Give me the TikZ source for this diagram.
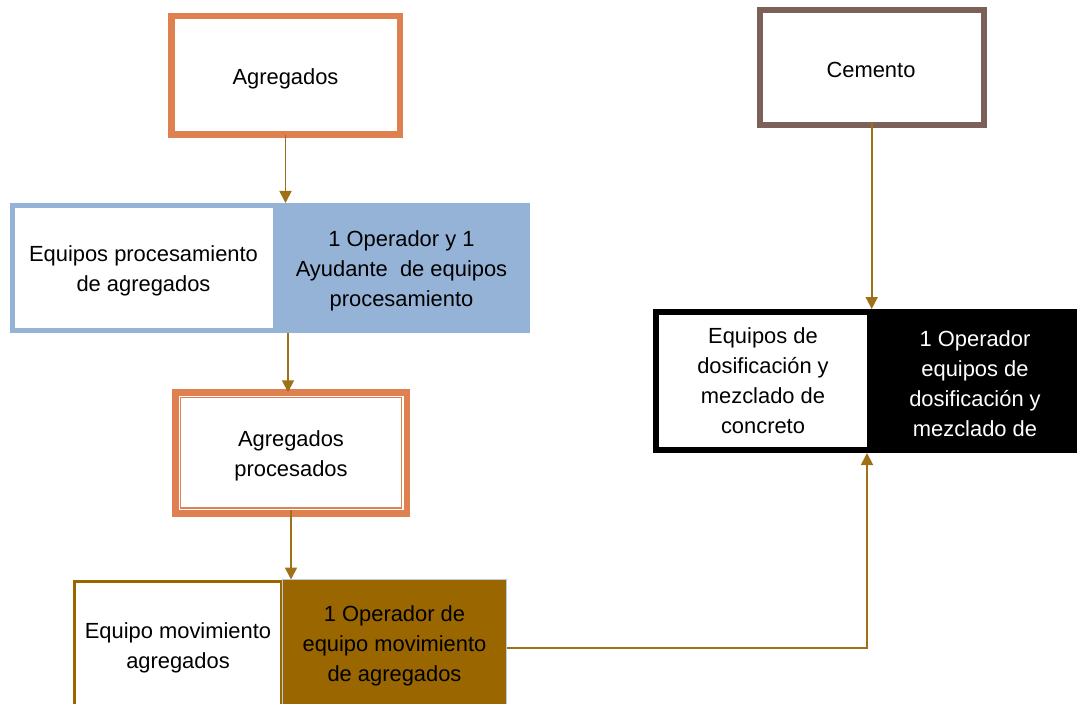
\documentclass[tikz,border=0pt]{standalone}
\usepackage{fontspec}
\setmainfont{Liberation Sans}
\usetikzlibrary{fit,arrows.meta}

\definecolor{aggorange}{RGB}{222,128,80}
\definecolor{procblue}{RGB}{149,179,215}
\definecolor{movbrown}{RGB}{153,102,0}
\definecolor{cemgray}{RGB}{123,97,88}
\definecolor{flowgold}{RGB}{160,112,24}
\definecolor{edgeblue}{RGB}{184,204,228}

\begin{document}
\begin{tikzpicture}[x=1bp,y=-1bp,
  every node/.style={inner sep=0pt,outer sep=0pt},
  block/.style={rectangle,align=center,text=black,
    font=\fontsize{21.9bp}{30bp}\selectfont},
  flow/.style={draw=flowgold,line width=1.8bp,
    -{Triangle[width=12bp,length=12bp]}}]

\clip (0,0) rectangle (1077,704);
\fill[white] (0,0) rectangle (1077,704);

% boxes (outlines given on their line centres)
\node[draw=aggorange,line width=6.5bp,fit={(171.25,16.25)(399.75,134.75)}] (agg) {};
\node[block] (aggtext) at (285.5,79) {Agregados};

\node[fill=procblue,fit={(10,203)(530,333)}] (procbox) {};
\node[fill=white,fit={(15,208)(273,328)}] (procL) {};
\node[block] (procLtext) at (143.5,271) {Equipos procesamiento\\de agregados};
\node[fit={(273,203)(530,333)}] (procR) {};
\node[block] (procRtext) at (401.5,271) {1 Operador y 1\\Ayudante \ de equipos\\procesamiento};

\node[draw=aggorange,line width=6.5bp,fit={(175.25,392.25)(406.75,513.25)}] (aggproc) {};
\draw[aggorange,line width=1.2bp] ([shift={(5.3,5.3)}]aggproc.north west) rectangle ([shift={(-5.3,-5.3)}]aggproc.south east);
\node[block] (aggproctext) at (291,456) {Agregados\\procesados};

\node[draw=movbrown,line width=3.3bp,fit={(74.65,581.65)(282,716)}] (movL) {};
\node[block] (movLtext) at (178,648) {Equipo movimiento\\agregados};
\node[fill=movbrown,draw=edgeblue,line width=1bp,fit={(282,579.5)(506.5,716)}] (movR) {};
\node[block] (movRtext) at (394.5,646) {1 Operador de\\equipo movimiento\\de agregados};

\node[draw=cemgray,line width=6bp,fit={(759.7,9.7)(983.7,125)}] (cem) {};
\node[block] (cemtext) at (871,70) {Cemento};

\node[fill=black,fit={(653,309)(1083,453)}] (dosbox) {};
\node[fill=white,fit={(659,315)(867,447)}] (dosL) {};
\node[block] (dosLtext) at (763,381) {Equipos de\\dosificación y\\mezclado de\\concreto};
\node[fit={(867,309)(1083,453)}] (dosR) {};
\node[block,text=white] (dosRtext) at (975,384) {1 Operador\\equipos de\\dosificación y\\mezclado de};

% connectors
\draw[flow] (agg.south) -- (agg.south |- procbox.north);
\draw[flow] ([xshift=2.5bp]agg.south |- procbox.south) -- ([xshift=2.5bp]agg.south |- aggproc.north);
\draw[flow] ([yshift=3.25bp]aggproc.south) -- (aggproc.south |- movR.north);
\draw[flow] ([yshift=3bp]cem.south) -- (cem.south |- dosbox.north);
\draw[flow] (movR.east) -| (dosL.east |- dosbox.south);

\end{tikzpicture}
\end{document}
